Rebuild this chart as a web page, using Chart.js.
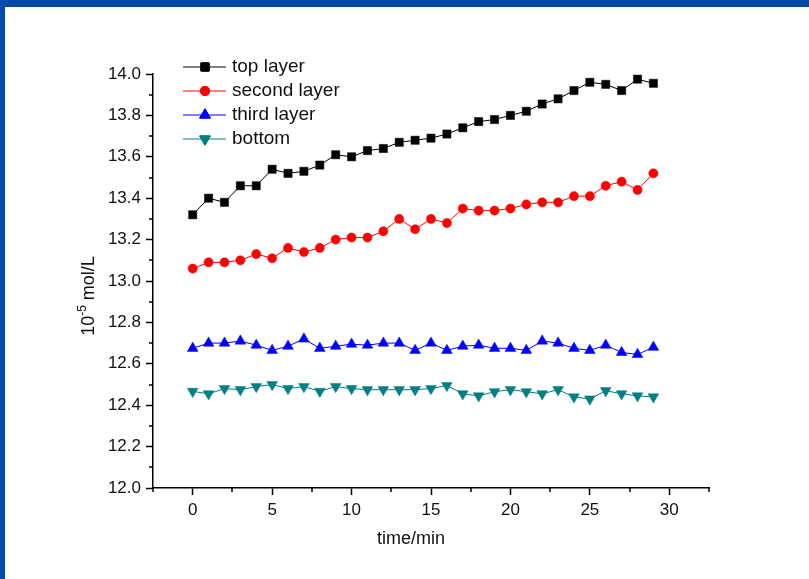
<!DOCTYPE html>
<html>
<head>
<meta charset="utf-8">
<title>Concentration by layer over time</title>
<script src="https://cdn.jsdelivr.net/npm/chart.js@4/dist/chart.umd.min.js"></script>
<style>
  html, body { margin: 0; padding: 0; }
  body { width: 809px; height: 579px; background: #004aac; position: relative; overflow: hidden; }
  #sheet { position: absolute; left: 5px; top: 7px; right: 0; bottom: 0; background: #ffffff; }
  #plot { position: absolute; left: 0; top: 0; }
</style>
</head>
<body>
<div id="sheet"></div>
<canvas id="plot" width="809" height="579"></canvas>
<script>
// Sampling times (min)
const times = [0, 1, 2, 3, 4, 5, 6, 7, 8, 9, 10, 11, 12, 13, 14, 15, 16, 17, 18, 19, 20, 21, 22, 23, 24, 25, 26, 27, 28, 29];

// Concentration, 10^-5 mol/L
const topLayer = [13.32, 13.40, 13.38, 13.46, 13.46, 13.54, 13.52, 13.53, 13.56, 13.61,
                  13.60, 13.63, 13.64, 13.67, 13.68, 13.69, 13.71, 13.74, 13.77, 13.78,
                  13.80, 13.82, 13.855, 13.88, 13.92, 13.96, 13.95, 13.92, 13.975, 13.955];
const secondLayer = [13.06, 13.09, 13.09, 13.10, 13.13, 13.11, 13.16, 13.14, 13.16, 13.20,
                     13.21, 13.21, 13.24, 13.30, 13.25, 13.30, 13.28, 13.35, 13.34, 13.34,
                     13.35, 13.37, 13.38, 13.38, 13.41, 13.41, 13.46, 13.48, 13.44, 13.52];
const thirdLayer = [12.675, 12.70, 12.70, 12.71, 12.69, 12.665, 12.685, 12.72, 12.675, 12.685,
                    12.695, 12.69, 12.70, 12.70, 12.665, 12.70, 12.665, 12.685, 12.69, 12.675,
                    12.675, 12.665, 12.71, 12.70, 12.675, 12.665, 12.69, 12.655, 12.645, 12.68];
const bottomLayer = [12.467, 12.455, 12.48, 12.475, 12.49, 12.50, 12.48, 12.49, 12.467, 12.49,
                     12.48, 12.475, 12.475, 12.475, 12.475, 12.48, 12.495, 12.455, 12.445, 12.465,
                     12.475, 12.465, 12.455, 12.475, 12.44, 12.43, 12.47, 12.455, 12.445, 12.44];

// Axis ticks
const xTicks = [0, 5, 10, 15, 20, 25, 30];
const xMinorTicks = [-2.5, 2.5, 7.5, 12.5, 17.5, 22.5, 27.5, 32.5];
const yTicks = [12.0, 12.2, 12.4, 12.6, 12.8, 13.0, 13.2, 13.4, 13.6, 13.8, 14.0];
const yMinorTicks = [12.1, 12.3, 12.5, 12.7, 12.9, 13.1, 13.3, 13.5, 13.7, 13.9];

const seriesNames = ['top layer', 'second layer', 'third layer', 'bottom'];
const seriesColors = ['#000000', '#ff0000', '#0000ff', '#008080'];

const FONT = '"Liberation Sans", Arial, sans-serif';

function pairs(values) {
  return times.map((t, i) => ({ x: t, y: values[i] }));
}

const markerStyles = [
  { pointStyle: 'rect', pointRadius: 5.8, rotation: 0 },
  { pointStyle: 'circle', pointRadius: 4.6, rotation: 0 },
  { pointStyle: 'triangle', pointRadius: 6.2, rotation: 0 },
  { pointStyle: 'triangle', pointRadius: 6.2, rotation: 180 }
];

const datasets = [topLayer, secondLayer, thirdLayer, bottomLayer].map((vals, i) => ({
  label: seriesNames[i],
  data: pairs(vals),
  borderColor: seriesColors[i],
  backgroundColor: seriesColors[i],
  borderWidth: 1,
  pointStyle: markerStyles[i].pointStyle,
  pointRadius: markerStyles[i].pointRadius,
  pointRotation: markerStyles[i].rotation,
  pointBorderWidth: 0.5,
  pointBorderColor: seriesColors[i],
  pointBackgroundColor: seriesColors[i],
  tension: 0,
  clip: false
}));

// Minor ticks, axis titles and the legend block
const decorations = {
  id: 'decorations',
  afterDraw(chart) {
    const ctx = chart.ctx;
    const xs = chart.scales.x, ys = chart.scales.y;
    const area = chart.chartArea;
    ctx.save();
    ctx.strokeStyle = '#000';
    ctx.lineWidth = 1.5;
    ctx.beginPath();
    xMinorTicks.forEach(v => {
      const px = Math.round(xs.getPixelForValue(v));
      ctx.moveTo(px, area.bottom);
      ctx.lineTo(px, area.bottom + 4);
    });
    yMinorTicks.forEach(v => {
      const py = Math.round(ys.getPixelForValue(v));
      ctx.moveTo(area.left, py);
      ctx.lineTo(area.left - 4, py);
    });
    ctx.stroke();

    // x title
    ctx.fillStyle = '#111';
    ctx.font = '18px ' + FONT;
    ctx.textAlign = 'center';
    ctx.textBaseline = 'middle';
    ctx.fillText('time/min', 411, 539);

    // y title with superscript exponent
    ctx.save();
    ctx.translate(88, 296);
    ctx.rotate(-Math.PI / 2);
    const big = '18px ' + FONT, small = '12px ' + FONT;
    ctx.font = big;
    const w1 = ctx.measureText('10').width;
    const w3 = ctx.measureText(' mol/L').width;
    ctx.font = small;
    const w2 = ctx.measureText('-5').width;
    let x0 = -(w1 + w2 + w3) / 2;
    ctx.textAlign = 'left';
    ctx.textBaseline = 'alphabetic';
    ctx.font = big;
    ctx.fillText('10', x0, 6);
    ctx.font = small;
    ctx.fillText('-5', x0 + w1, -2);
    ctx.font = big;
    ctx.fillText(' mol/L', x0 + w1 + w2, 6);
    ctx.restore();

    // legend
    const rows = [67, 91, 115, 139];
    chart.data.datasets.forEach((ds, i) => {
      const y = rows[i];
      ctx.strokeStyle = ds.borderColor;
      ctx.lineWidth = 1;
      ctx.beginPath();
      ctx.moveTo(183, y);
      ctx.lineTo(226, y);
      ctx.stroke();
      Chart.helpers.drawPoint(ctx, {
        pointStyle: ds.pointStyle,
        radius: ds.pointRadius,
        rotation: ds.pointRotation,
        borderWidth: 0.5
      }, 205, y);
      ctx.fillStyle = ds.backgroundColor;
      ctx.strokeStyle = ds.borderColor;
      ctx.fill();
      ctx.stroke();
      ctx.fillStyle = '#111';
      ctx.font = '19px ' + FONT;
      ctx.textAlign = 'left';
      ctx.textBaseline = 'middle';
      ctx.fillText(ds.label, 232, y);
    });
    ctx.restore();
  }
};

new Chart(document.getElementById('plot'), {
  type: 'line',
  data: { datasets },
  options: {
    responsive: false,
    animation: false,
    events: [],
    layout: { padding: { left: 0, top: 74, right: 100, bottom: 0 } },
    plugins: { legend: { display: false }, tooltip: { enabled: false } },
    scales: {
      x: {
        type: 'linear',
        min: -2.5,
        max: 32.5,
        afterFit(scale) { scale.height = 91; },
        afterBuildTicks(scale) { scale.ticks = xTicks.map(v => ({ value: v })); },
        grid: { drawOnChartArea: false, drawTicks: true, tickLength: 7, tickWidth: 1.5, tickColor: '#000' },
        border: { display: true, color: '#000', width: 1.5 },
        ticks: { color: '#111', font: { family: FONT, size: 17 }, padding: 5, maxRotation: 0, autoSkip: false,
                 callback: v => String(v) }
      },
      y: {
        type: 'linear',
        min: 12.0,
        max: 14.0,
        afterFit(scale) { scale.width = 153; },
        afterBuildTicks(scale) { scale.ticks = yTicks.map(v => ({ value: v })); },
        grid: { drawOnChartArea: false, drawTicks: true, tickLength: 7, tickWidth: 1.5, tickColor: '#000' },
        border: { display: true, color: '#000', width: 1.5 },
        ticks: { color: '#111', font: { family: FONT, size: 17 }, padding: 5, autoSkip: false,
                 callback: v => Number(v).toFixed(1) }
      }
    }
  },
  plugins: [decorations]
});
</script>
</body>
</html>
